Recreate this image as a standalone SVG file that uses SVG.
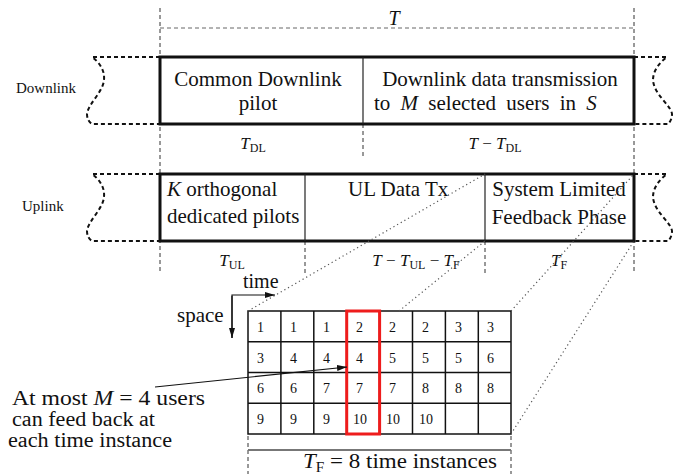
<svg xmlns="http://www.w3.org/2000/svg" width="683" height="474" viewBox="0 0 683 474">
<defs>
<style>
text{font-family:"Liberation Serif","Times New Roman",serif;fill:#111}
.m{font-size:21px}
.lbl{font-size:17px}
.sub{font-size:12px}
.side{font-size:15px}
.num{font-size:14px}
.it{font-style:italic}
.vd{stroke:#333;stroke-width:1;stroke-dasharray:4 3;fill:none}
.hd{stroke:#666;stroke-width:1;stroke-dasharray:4 3;fill:none}
.brk{stroke:#111;stroke-width:2;stroke-dasharray:4 3;fill:none}
.box{fill:#fff;stroke:#111;stroke-width:3}
.div{stroke:#222;stroke-width:1.2}
.dot{stroke:#555;stroke-width:1.2;stroke-dasharray:1.2 3;fill:none}
.cell{fill:#fff;stroke:#111;stroke-width:1.5}
.arr{stroke:#111;stroke-width:1.2;fill:none}
.ann{font-size:20px}
</style>
<marker id="ah" viewBox="0 0 10 6" refX="10" refY="3" markerWidth="10" markerHeight="6" markerUnits="userSpaceOnUse" orient="auto">
<path d="M0,0 L10,3 L0,6 Z" fill="#111"/>
</marker>
</defs>
<rect width="683" height="474" fill="#fff"/>

<g id="guides">
<line class="vd" x1="160" y1="8" x2="160" y2="274"/>
<line class="vd" x1="634" y1="8" x2="634" y2="274"/>
<line class="hd" x1="160" y1="28" x2="634" y2="28"/>
<line class="vd" x1="363" y1="124" x2="363" y2="158"/>
<line class="vd" x1="305" y1="241" x2="305" y2="274"/>
<line class="vd" x1="485" y1="241" x2="485" y2="274"/>
<line class="vd" x1="248" y1="436" x2="248" y2="474"/>
<line class="vd" x1="511" y1="436" x2="511" y2="474"/>
<line x1="248" y1="450" x2="511" y2="450" stroke="#777" stroke-width="2"/>
</g>

<g id="breaks">
<path class="brk" d="M160,57 H92 C99,62 105,70 104,80 C103,92 88,104 87,114 C87,119 89,122 92,124 H160"/>
<path class="brk" d="M634,57 H667 C659,63 653,71 653,80 C654,95 671,105 672,114 C672,119 670,122 668,124 H634"/>
<path class="brk" d="M160,174 H92 C99,179 105,187 104,197 C103,209 88,221 87,231 C87,236 89,239 92,241 H160"/>
<path class="brk" d="M634,174 H667 C659,180 653,188 653,197 C654,212 671,222 672,231 C672,236 670,239 668,241 H634"/>
</g>

<g id="downlink">
<rect class="box" x="160" y="57" width="474" height="67"/>
<line class="div" x1="363" y1="57" x2="363" y2="124" stroke="#555"/>
<text class="m" x="258" y="86" text-anchor="middle">Common Downlink</text>
<text class="m" x="258" y="110" text-anchor="middle">pilot</text>
<text class="m" x="500" y="86" text-anchor="middle">Downlink data transmission</text>
<text class="m" x="374" y="110" word-spacing="5">to <tspan class="it">M</tspan> selected users in <tspan class="it">S</tspan></text>
</g>

<g id="uplink">
<rect class="box" x="160" y="174" width="474" height="67"/>
<line class="div" x1="305" y1="174" x2="305" y2="241"/>
<line class="div" x1="485" y1="174" x2="485" y2="241"/>
<text class="m" x="167" y="196"><tspan class="it">K</tspan> orthogonal</text>
<text class="m" x="167" y="223">dedicated pilots</text>
<text class="m" x="348" y="196">UL Data Tx</text>
<text class="m" x="559" y="196" text-anchor="middle">System Limited</text>
<text class="m" x="559" y="224" text-anchor="middle">Feedback Phase</text>
</g>

<g id="side-labels">
<text class="side" x="16" y="93">Downlink</text>
<text class="side" x="22" y="211">Uplink</text>
</g>

<g id="durations">
<text x="394" y="25" text-anchor="middle" font-size="20" class="it">T</text>
<text class="lbl" x="253" y="149" text-anchor="middle"><tspan class="it">T</tspan><tspan class="sub" dy="3">DL</tspan></text>
<text class="lbl" x="495" y="149" text-anchor="middle"><tspan class="it">T</tspan> − <tspan class="it">T</tspan><tspan class="sub" dy="3">DL</tspan></text>
<text class="lbl" x="232" y="266" text-anchor="middle"><tspan class="it">T</tspan><tspan class="sub" dy="3">UL</tspan></text>
<text class="lbl" x="416" y="266" text-anchor="middle"><tspan class="it">T</tspan> − <tspan class="it">T</tspan><tspan class="sub" dy="3">UL</tspan><tspan dy="-3"> − </tspan><tspan class="it">T</tspan><tspan class="sub" dy="3">F</tspan></text>
<text class="lbl" x="559" y="266" text-anchor="middle"><tspan class="it">T</tspan><tspan class="sub" dy="3">F</tspan></text>
</g>

<g id="grid">
<rect class="cell" x="248" y="311" width="263" height="123"/>
<g stroke="#111" stroke-width="1.5">
<line x1="280.9" y1="311" x2="280.9" y2="434"/>
<line x1="313.8" y1="311" x2="313.8" y2="434"/>
<line x1="346.7" y1="311" x2="346.7" y2="434"/>
<line x1="379.6" y1="311" x2="379.6" y2="434"/>
<line x1="412.5" y1="311" x2="412.5" y2="434"/>
<line x1="445.4" y1="311" x2="445.4" y2="434"/>
<line x1="478.3" y1="311" x2="478.3" y2="434"/>
<line x1="248" y1="341.75" x2="511" y2="341.75"/>
<line x1="248" y1="372.5" x2="511" y2="372.5"/>
<line x1="248" y1="403.25" x2="511" y2="403.25"/>
</g>
<g>
<text class="num" x="257" y="331.5">1</text><text class="num" x="290" y="331.5">1</text><text class="num" x="323" y="331.5">1</text><text class="num" x="356" y="331.5">2</text><text class="num" x="389" y="331.5">2</text><text class="num" x="422" y="331.5">2</text><text class="num" x="455" y="331.5">3</text><text class="num" x="487" y="331.5">3</text>
<text class="num" x="257" y="362.5">3</text><text class="num" x="290" y="362.5">4</text><text class="num" x="323" y="362.5">4</text><text class="num" x="356" y="362.5">4</text><text class="num" x="389" y="362.5">5</text><text class="num" x="422" y="362.5">5</text><text class="num" x="455" y="362.5">5</text><text class="num" x="487" y="362.5">6</text>
<text class="num" x="257" y="393">6</text><text class="num" x="290" y="393">6</text><text class="num" x="323" y="393">7</text><text class="num" x="356" y="393">7</text><text class="num" x="389" y="393">7</text><text class="num" x="422" y="393">8</text><text class="num" x="455" y="393">8</text><text class="num" x="487" y="393">8</text>
<text class="num" x="257" y="424">9</text><text class="num" x="290" y="424">9</text><text class="num" x="323" y="424">9</text><text class="num" x="353" y="424">10</text><text class="num" x="386" y="424">10</text><text class="num" x="419" y="424">10</text>
</g>
<rect x="346.7" y="311" width="32.9" height="123" fill="none" stroke="#ee1c1c" stroke-width="3"/>
</g>

<g id="connectors">
<line class="dot" x1="248" y1="311" x2="485" y2="174"/>
<line class="dot" x1="399" y1="311" x2="485" y2="241"/>
<line class="dot" x1="511" y1="311" x2="634" y2="174"/>
<line class="dot" x1="511" y1="434" x2="634" y2="241"/>
<path class="arr" d="M232,338 V295 H275" marker-end="url(#ah)"/>
<path class="arr" d="M232,296 V338" marker-end="url(#ah)"/>
<line class="arr" x1="155" y1="387" x2="347" y2="367" marker-end="url(#ah)"/>
</g>

<g id="annotations">
<text x="243" y="288" font-size="20">time</text>
<text class="m" x="177" y="322">space</text>
<text class="ann" x="12" y="405" textLength="193" lengthAdjust="spacingAndGlyphs">At most <tspan class="it">M</tspan> = 4 users</text>
<text class="ann" x="12" y="426" textLength="143" lengthAdjust="spacingAndGlyphs">can feed back at</text>
<text class="ann" x="8" y="447" textLength="164" lengthAdjust="spacingAndGlyphs">each time instance</text>
<text x="303" y="468" font-size="21" textLength="194" lengthAdjust="spacingAndGlyphs"><tspan class="it">T</tspan><tspan font-size="14" dy="4">F</tspan><tspan dy="-4"> = 8 time instances</tspan></text>
</g>
</svg>
